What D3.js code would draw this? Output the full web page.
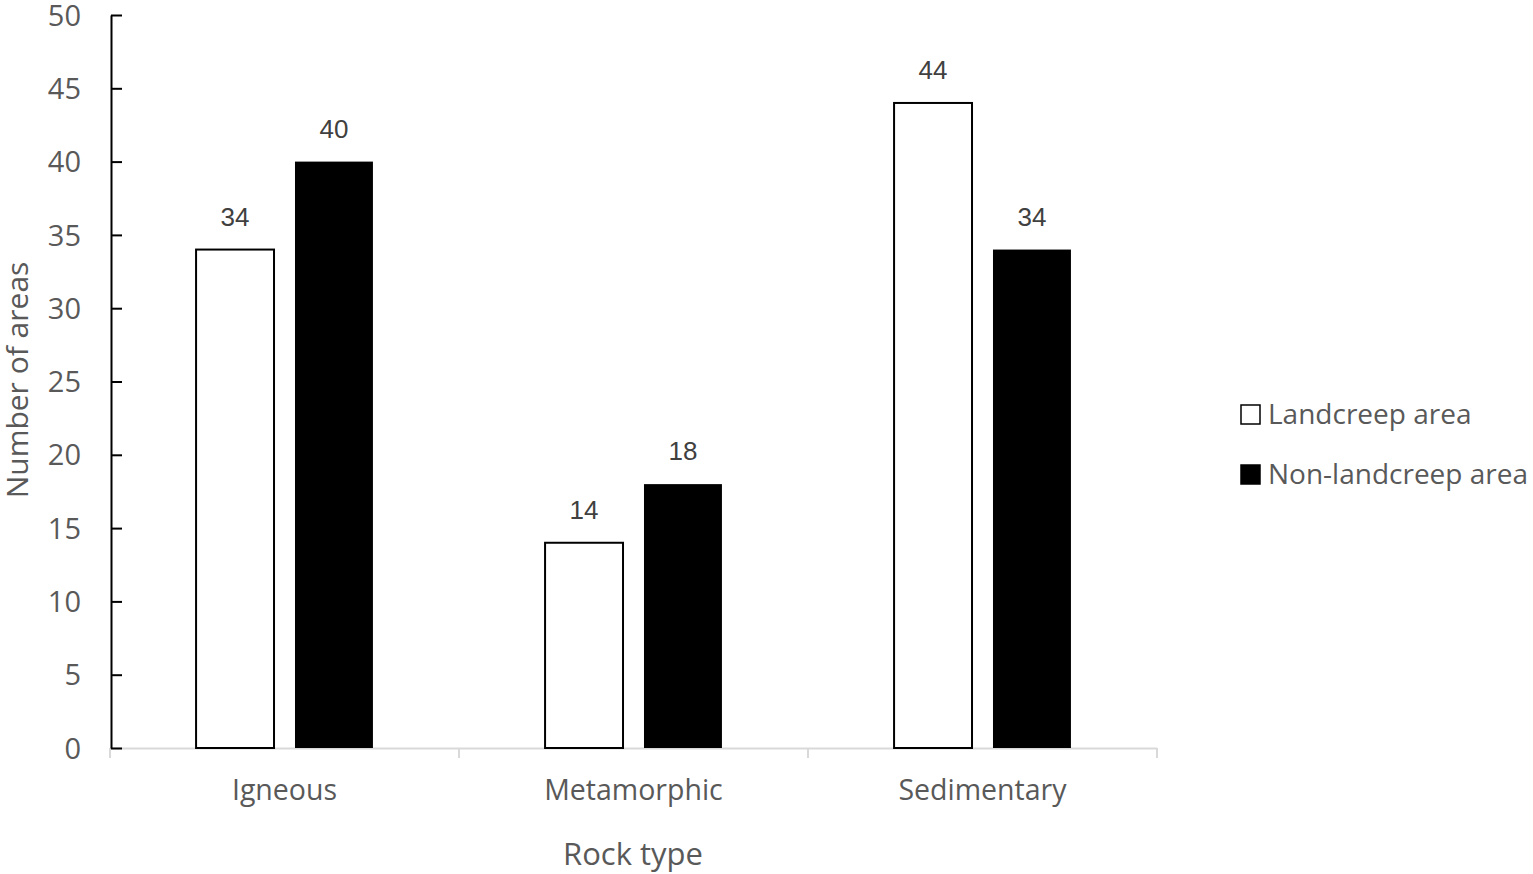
<!DOCTYPE html>
<html>
<head>
<meta charset="utf-8">
<script src="https://cdn.jsdelivr.net/npm/d3@7"></script>
<style>
  body { margin: 0; background: #fff; }
  svg text { fill: #595959; }
</style>
</head>
<body>
<svg></svg>
<script>
const width = 1533;
const height = 874;

// data
const categories = ["Igneous", "Metamorphic", "Sedimentary"];
const seriesNames = ["Landcreep area", "Non-landcreep area"];
const landcreep = [34, 14, 44];
const nonLandcreep = [40, 18, 34];
const yTicks = [0, 5, 10, 15, 20, 25, 30, 35, 40, 45, 50];

const seriesFill = ["#ffffff", "#000000"];

let rows = categories.map((c, i) => ({
  category: c,
  values: [
    { key: seriesNames[0], value: landcreep[i] },
    { key: seriesNames[1], value: nonLandcreep[i] }
  ]
}));

let svg = d3.select("svg")
  .attr("width", width)
  .attr("height", height);

// scales
let x0 = d3.scaleBand()
  .domain(categories)
  .range([110, 1157])
  .padding(0);
let x1 = d3.scaleBand()
  .domain(seriesNames)
  .range([0, x0.bandwidth()])
  .paddingInner(0.212)
  .paddingOuter(0.87);
let y = d3.scaleLinear()
  .domain([0, 50])
  .range([748, 15]);
let fill = d3.scaleOrdinal().domain(seriesNames).range(seriesFill);

// x axis baseline (light grey) with tick marks between categories
let xAxis = svg.append("g");
xAxis.append("line")
  .attr("x1", 110).attr("x2", 1157)
  .attr("y1", y(0) + 0.5).attr("y2", y(0) + 0.5)
  .attr("stroke", "#d9d9d9").attr("stroke-width", 2);
let boundaries = categories.map(c => x0(c)).concat([x0.range()[1]]);
xAxis.selectAll(".xtick")
  .data(boundaries)
  .enter().append("line")
  .attr("x1", d => d).attr("x2", d => d)
  .attr("y1", y(0)).attr("y2", y(0) + 10)
  .attr("stroke", "#d9d9d9").attr("stroke-width", 2);
xAxis.selectAll(".xlabel")
  .data(categories)
  .enter().append("text")
  .attr("x", d => x0(d) + x0.bandwidth() / 2)
  .attr("y", 800)
  .attr("text-anchor", "middle")
  .style("font-family", "'Open Sans', sans-serif")
  .style("font-size", "28.5px")
  .text(d => d);

// bars
let groups = svg.selectAll(".group")
  .data(rows)
  .enter().append("g")
  .attr("transform", d => `translate(${x0(d.category)},0)`);

groups.selectAll("rect")
  .data(d => d.values)
  .enter().append("rect")
  .attr("x", d => x1(d.key))
  .attr("width", x1.bandwidth())
  .attr("y", d => y(d.value))
  .attr("height", d => y(0) - y(d.value))
  .attr("fill", d => fill(d.key))
  .attr("stroke", "#000")
  .attr("stroke-width", d => d.key === seriesNames[0] ? 2 : 0);

groups.selectAll(".lbl")
  .data(d => d.values)
  .enter().append("text")
  .attr("x", d => x1(d.key) + x1.bandwidth() / 2)
  .attr("y", d => y(d.value) - 24)
  .attr("text-anchor", "middle")
  .style("font-family", "'Liberation Sans', Arial, sans-serif")
  .style("font-size", "26px")
  .style("fill", "#404040")
  .text(d => d.value);

// y axis
let yAxis = d3.axisLeft(y)
  .tickValues(yTicks)
  .tickSize(0)
  .tickPadding(30);
let yg = svg.append("g")
  .attr("transform", "translate(111,0)")
  .call(yAxis);
yg.select(".domain").attr("stroke", "#000").attr("stroke-width", 2);
yg.selectAll(".tick line").remove();
yg.selectAll(".tick")
  .append("line")
  .attr("x1", 0).attr("x2", 11)
  .attr("stroke", "#000").attr("stroke-width", 2);
yg.selectAll(".tick text")
  .attr("dy", "0.35em")
  .style("font-family", "'Open Sans', sans-serif")
  .style("font-size", "29px")
  .style("fill", "#595959");

// axis titles
svg.append("text")
  .attr("x", 633)
  .attr("y", 865)
  .attr("text-anchor", "middle")
  .style("font-family", "'Open Sans', sans-serif")
  .style("font-size", "31px")
  .text("Rock type");

svg.append("text")
  .attr("transform", "rotate(-90)")
  .attr("x", -380)
  .attr("y", 28)
  .attr("text-anchor", "middle")
  .style("font-family", "'Open Sans', sans-serif")
  .style("font-size", "30px")
  .text("Number of areas");

// legend
let legend = svg.selectAll(".legend")
  .data(seriesNames)
  .enter().append("g")
  .attr("transform", (d, i) => `translate(1240,${404 + i * 60})`);
legend.append("rect")
  .attr("x", 1).attr("y", 1)
  .attr("width", 19).attr("height", 19)
  .attr("fill", d => fill(d))
  .attr("stroke", "#000")
  .attr("stroke-width", 1.5);
legend.append("text")
  .attr("x", 28)
  .attr("y", 20)
  .style("font-family", "'Open Sans', sans-serif")
  .style("font-size", "28px")
  .text(d => d);
</script>
</body>
</html>
